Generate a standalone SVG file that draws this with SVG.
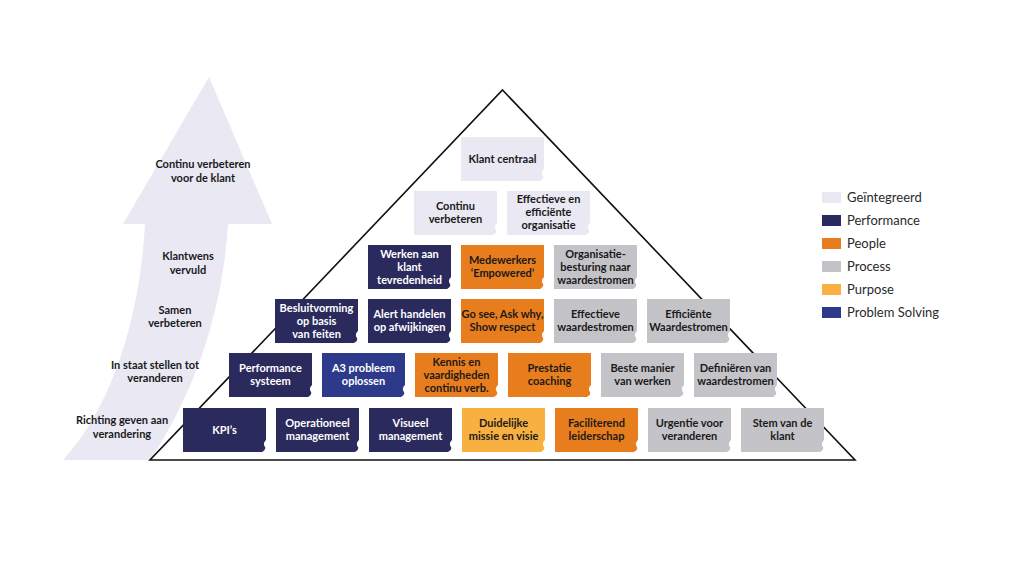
<svg xmlns="http://www.w3.org/2000/svg" xmlns:xlink="http://www.w3.org/1999/xlink" width="1024" height="576" viewBox="0 0 1024 576">
<style>
.int{fill:#e9e8f3}.perf{fill:#2b2a5c}.peo{fill:#e87d1e}.pro{fill:#c3c3c8}.pur{fill:#f8b040}.ps{fill:#2d3a8c}
text{font-family:Lato,"Source Sans Pro","Noto Sans",sans-serif;font-weight:700;font-size:11px;text-anchor:middle}
.w{fill:#ffffff}.d{fill:#1a1a1a}
.lab{fill:#1a1a1a}
.leg{font-weight:400;font-size:13px;text-anchor:start;fill:#2a2a2a}
</style>
<defs>
<path id="box" d="M0,0 H83 V32 C81,34 80,36 82,39 C83,41 81,43 79,44 H0 Z"/>
</defs>
<rect width="1024" height="576" fill="#ffffff"/>
<g id="arrow">
<path class="int" d="M209,77 L272,224 L228,224 C222,320 190,400 150,460 L63,460 C110,410 140,320 145,224 L123,224 Z"/>
<text class="lab" x="203" y="168">Continu verbeteren</text>
<text class="lab" x="203" y="182">voor de klant</text>
<text class="lab" x="188" y="260">Klantwens</text>
<text class="lab" x="188" y="274">vervuld</text>
<text class="lab" x="175" y="314">Samen</text>
<text class="lab" x="175" y="327">verbeteren</text>
<text class="lab" x="155" y="369">In staat stellen tot</text>
<text class="lab" x="155" y="382">veranderen</text>
<text class="lab" x="122" y="424">Richting geven aan</text>
<text class="lab" x="122" y="438">verandering</text>
</g>
<g id="pyramid">
<path d="M502.5,90 L855,460 L150,460 Z" fill="none" stroke="#111" stroke-width="1.6" stroke-linejoin="miter"/>
</g>
<g id="connectors"></g>
<g id="n-klant-centraal"><use xlink:href="#box" class="int" x="461" y="137"/><text class="d" x="502.5" y="163">Klant centraal</text></g>
<g id="n-continu"><use xlink:href="#box" class="int" x="414" y="191"/><text class="d" x="455.5" y="210">Continu</text><text class="d" x="455.5" y="223">verbeteren</text></g>
<g id="n-effectieve-org"><use xlink:href="#box" class="int" x="507" y="191"/><text class="d" x="548.5" y="203">Effectieve en</text><text class="d" x="548.5" y="216">efficiënte</text><text class="d" x="548.5" y="229">organisatie</text></g>
<g id="n-werken"><use xlink:href="#box" class="perf" x="368" y="245"/><text class="w" x="409.5" y="258">Werken aan</text><text class="w" x="409.5" y="271">klant</text><text class="w" x="409.5" y="284">tevredenheid</text></g>
<g id="n-medewerkers"><use xlink:href="#box" class="peo" x="461" y="245"/><text class="d" x="502.5" y="264">Medewerkers</text><text class="d" x="502.5" y="277">‘Empowered’</text></g>
<g id="n-organisatie"><use xlink:href="#box" class="pro" x="554" y="245"/><text class="d" x="595.5" y="258">Organisatie-</text><text class="d" x="595.5" y="271">besturing naar</text><text class="d" x="595.5" y="284">waardestromen</text></g>
<g id="n-besluit"><use xlink:href="#box" class="perf" x="275" y="299"/><text class="w" x="316.5" y="312">Besluitvorming</text><text class="w" x="316.5" y="325">op basis</text><text class="w" x="316.5" y="338">van feiten</text></g>
<g id="n-alert"><use xlink:href="#box" class="perf" x="368" y="299"/><text class="w" x="409.5" y="318">Alert handelen</text><text class="w" x="409.5" y="331">op afwijkingen</text></g>
<g id="n-gosee"><use xlink:href="#box" class="peo" x="461" y="299"/><text class="d" x="502.5" y="318">Go see, Ask why,</text><text class="d" x="502.5" y="331">Show respect</text></g>
<g id="n-effectieve-ws"><use xlink:href="#box" class="pro" x="554" y="299"/><text class="d" x="595.5" y="318">Effectieve</text><text class="d" x="595.5" y="331">waardestromen</text></g>
<g id="n-efficiente-ws"><use xlink:href="#box" class="pro" x="647" y="299"/><text class="d" x="688.5" y="318">Efficiënte</text><text class="d" x="688.5" y="331">Waardestromen</text></g>
<g id="n-perfsys"><use xlink:href="#box" class="perf" x="229" y="353"/><text class="w" x="270.5" y="372">Performance</text><text class="w" x="270.5" y="385">systeem</text></g>
<g id="n-a3"><use xlink:href="#box" class="ps" x="322" y="353"/><text class="w" x="363.5" y="372">A3 probleem</text><text class="w" x="363.5" y="385">oplossen</text></g>
<g id="n-kennis"><use xlink:href="#box" class="peo" x="415" y="353"/><text class="d" x="456.5" y="366">Kennis en</text><text class="d" x="456.5" y="379">vaardigheden</text><text class="d" x="456.5" y="392">continu verb.</text></g>
<g id="n-prestatie"><use xlink:href="#box" class="peo" x="508" y="353"/><text class="d" x="549.5" y="372">Prestatie</text><text class="d" x="549.5" y="385">coaching</text></g>
<g id="n-beste"><use xlink:href="#box" class="pro" x="601" y="353"/><text class="d" x="642.5" y="372">Beste manier</text><text class="d" x="642.5" y="385">van werken</text></g>
<g id="n-definieren"><use xlink:href="#box" class="pro" x="694" y="353"/><text class="d" x="735.5" y="372">Definiëren van</text><text class="d" x="735.5" y="385">waardestromen</text></g>
<g id="n-kpi"><use xlink:href="#box" class="perf" x="183" y="408"/><text class="w" x="224.5" y="434">KPI’s</text></g>
<g id="n-operationeel"><use xlink:href="#box" class="perf" x="276" y="408"/><text class="w" x="317.5" y="427">Operationeel</text><text class="w" x="317.5" y="440">management</text></g>
<g id="n-visueel"><use xlink:href="#box" class="perf" x="369" y="408"/><text class="w" x="410.5" y="427">Visueel</text><text class="w" x="410.5" y="440">management</text></g>
<g id="n-duidelijke"><use xlink:href="#box" class="pur" x="462" y="408"/><text class="d" x="503.5" y="427">Duidelijke</text><text class="d" x="503.5" y="440">missie en visie</text></g>
<g id="n-faciliterend"><use xlink:href="#box" class="peo" x="555" y="408"/><text class="d" x="596.5" y="427">Faciliterend</text><text class="d" x="596.5" y="440">leiderschap</text></g>
<g id="n-urgentie"><use xlink:href="#box" class="pro" x="648" y="408"/><text class="d" x="689.5" y="427">Urgentie voor</text><text class="d" x="689.5" y="440">veranderen</text></g>
<g id="n-stem"><use xlink:href="#box" class="pro" x="741" y="408"/><text class="d" x="782.5" y="427">Stem van de</text><text class="d" x="782.5" y="440">klant</text></g>
<g id="legend">
<rect class="int" x="822" y="192" width="19" height="11"/><text class="leg" x="847" y="202">Geïntegreerd</text>
<rect class="perf" x="822" y="215" width="19" height="11"/><text class="leg" x="847" y="225">Performance</text>
<rect class="peo" x="822" y="238" width="19" height="11"/><text class="leg" x="847" y="248">People</text>
<rect class="pro" x="822" y="261" width="19" height="11"/><text class="leg" x="847" y="271">Process</text>
<rect class="pur" x="822" y="284" width="19" height="11"/><text class="leg" x="847" y="294">Purpose</text>
<rect class="ps" x="822" y="307" width="19" height="11"/><text class="leg" x="847" y="317">Problem Solving</text>
</g>
</svg>
